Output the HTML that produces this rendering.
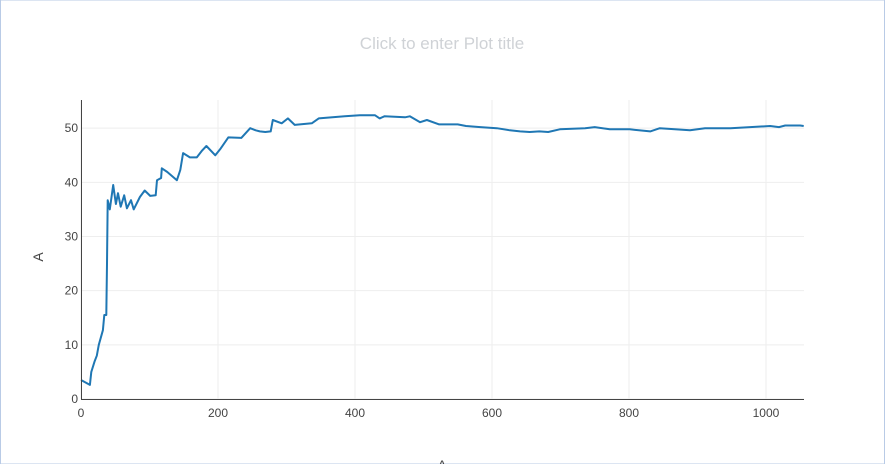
<!DOCTYPE html>
<html><head><meta charset="utf-8"><style>
html,body{margin:0;padding:0;background:#fff}
svg{display:block;font-family:"Liberation Sans",sans-serif}
</style></head><body>
<svg id="chart" width="885" height="464">
<rect x="0.5" y="0" width="884" height="464" fill="#fff" stroke="#b9cbe6"/>
<text x="442" y="49" text-anchor="middle" font-size="17" fill="#cfd2d6">Click to enter Plot title</text>
<g id="grid"></g><g id="series"></g><g id="axes"></g>
<text x="442" y="470" text-anchor="middle" font-size="14" fill="#444">A</text>
<text transform="translate(43,257) rotate(-90)" text-anchor="middle" font-size="14" fill="#444">A</text>
</svg>
<script>
const xVals=[0,13,15,20,23,26,32,34,37,38,39,42,47,51,54,58,63,67,73,77,86,93,101,109,111,117,118,126,140,145,149,159,169,177,183,196,203,215,234,247,255,261,269,277,280,293,302,312,337,347,385,407,429,436,443,473,480,495,505,523,550,562,583,607,626,641,655,669,682,699,736,750,772,801,831,845,889,911,948,977,1006,1019,1028,1050,1055];
const yVals=[3.5,2.6,5,7,8,10,12.7,15.5,15.5,25,36.7,35,39.5,36,38,35.5,37.6,35.2,36.7,35,37.3,38.5,37.5,37.6,40.4,40.8,42.6,41.9,40.4,42.3,45.4,44.6,44.6,45.9,46.7,45,46.1,48.3,48.2,50,49.6,49.4,49.3,49.4,51.5,50.9,51.8,50.6,50.9,51.8,52.2,52.4,52.4,51.8,52.2,52,52.2,51.1,51.5,50.7,50.7,50.4,50.2,50,49.6,49.4,49.3,49.4,49.3,49.8,50,50.2,49.8,49.8,49.4,50,49.6,50,50,50.2,50.4,50.2,50.5,50.5,50.4];
const xTicks=[0,200,400,600,800,1000];
const yTicks=[0,10,20,30,40,50];
const X0=81,X1=804,Y0=399,Y1=100,xMax=1055.5,yMax=55.2;
const sx=v=>X0+v/xMax*(X1-X0), sy=v=>Y0-v/yMax*(Y0-Y1);
const NS="http://www.w3.org/2000/svg";
const grid=document.getElementById('grid'),axes=document.getElementById('axes'),ser=document.getElementById('series');
function mk(t,a,p){const e=document.createElementNS(NS,t);for(const k in a)e.setAttribute(k,a[k]);p.appendChild(e);return e;}
xTicks.forEach(t=>{
 const g=mk('line',{x1:sx(t),x2:sx(t),y1:Y1,y2:Y0,stroke:'#eee'},grid);
 
 
 const l=mk('text',{x:sx(t),y:Y0+18,'text-anchor':'middle','font-size':12,fill:'#444'},axes);
 l.textContent=t;
 
 
});
yTicks.forEach(t=>{
 const g=mk('line',{x1:X0,x2:X1,y1:sy(t),y2:sy(t),stroke:'#eee'},grid);
 
 
 const l=mk('text',{x:X0-3,y:sy(t)+4,'text-anchor':'end','font-size':12,fill:'#444'},axes);
 l.textContent=t;
 
 
});
const xa=mk('line',{x1:X0,x2:X1,y1:Y0+0.5,y2:Y0+0.5,stroke:'#444'},axes);


const ya=mk('line',{x1:X0+0.5,x2:X0+0.5,y1:Y1,y2:Y0+1,stroke:'#444'},axes);


const d=xVals.map((x,i)=>(i?'L':'M')+sx(x).toFixed(1)+','+sy(yVals[i]).toFixed(1)).join('');
const p=mk('path',{d:d,fill:'none',stroke:'#1f77b4','stroke-width':2,'stroke-linejoin':'round'},ser);


</script>
</body></html>
